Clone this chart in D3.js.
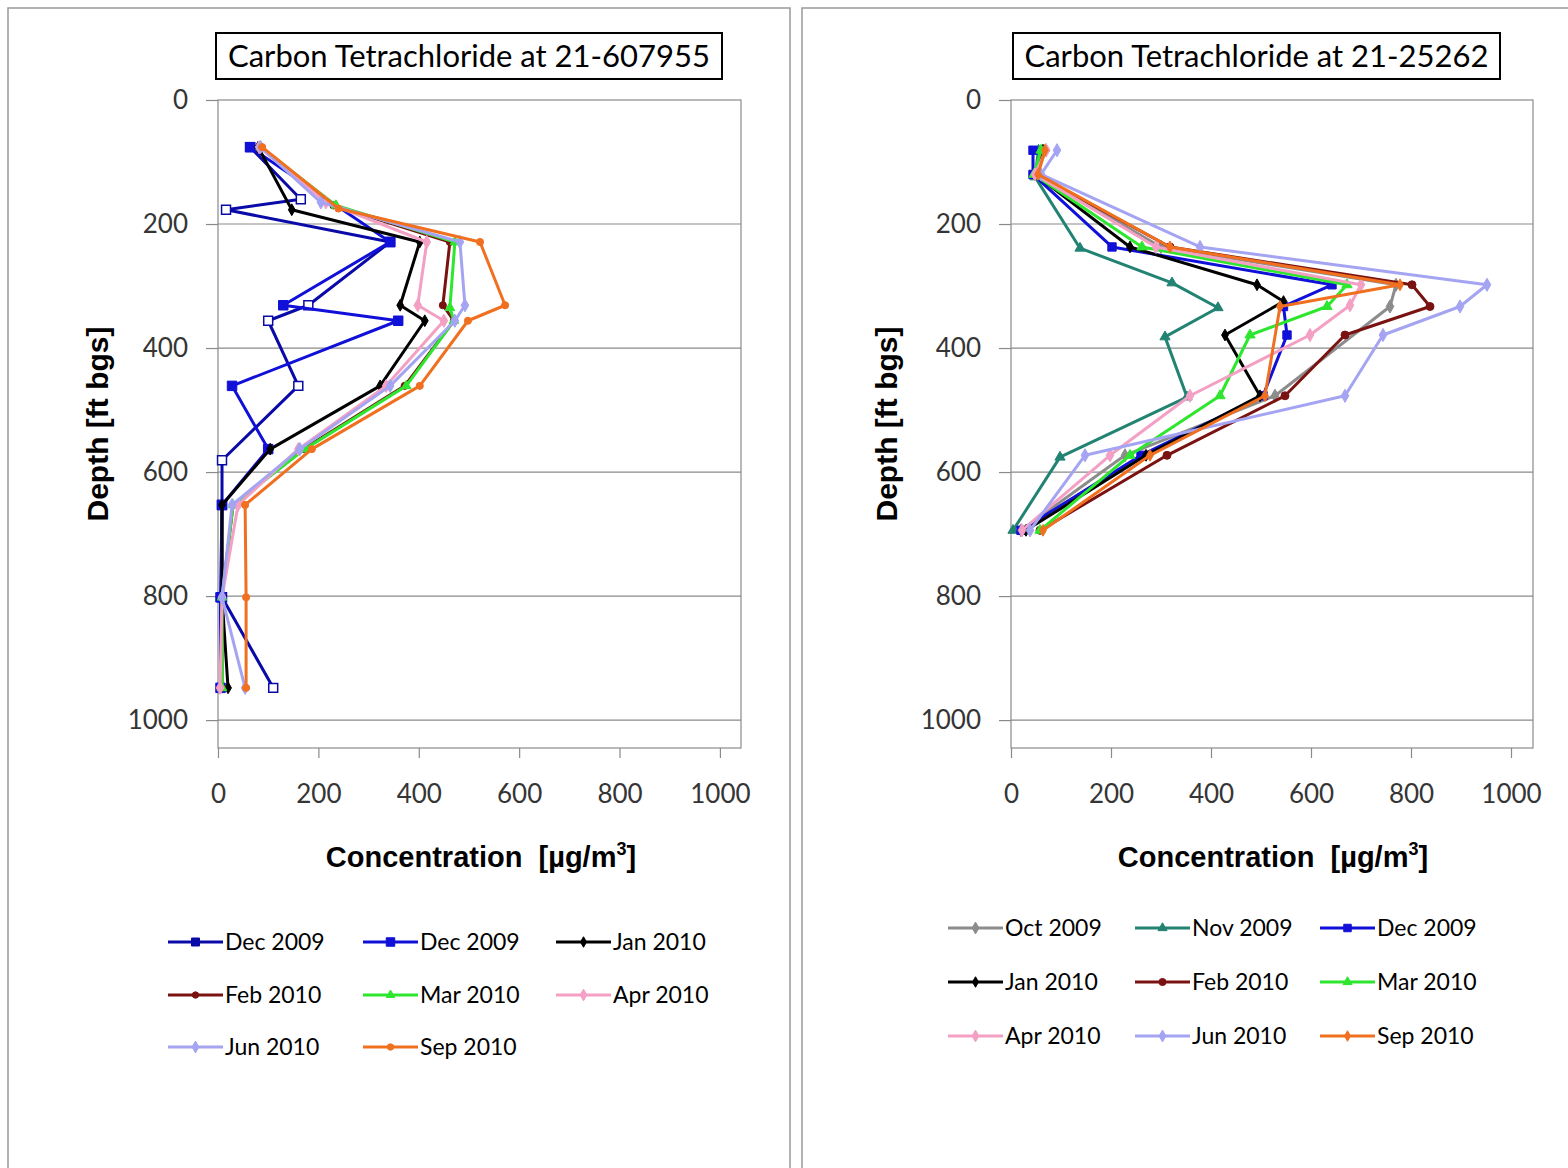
<!DOCTYPE html>
<html>
<head>
<meta charset="utf-8">
<script src="https://cdnjs.cloudflare.com/ajax/libs/d3/7.8.5/d3.min.js"></script>
<style>
  body { margin: 0; background: #fff; }
  svg { display: block; }
</style>
</head>
<body>
<div id="chart"></div>
<script>
// ---- data: depth [ft bgs] and concentration [ug/m3] per sampling event ----
const axisTicks = [0, 200, 400, 600, 800, 1000];

// well 21-607955
const L_names = ["Dec 2009", "Dec 2009", "Jan 2010", "Feb 2010", "Mar 2010", "Apr 2010", "Jun 2010", "Sep 2010"];
const L_dec09a_depth = [76, 160, 177, 229, 331, 356, 461, 581, 653, 802, 948];
const L_dec09a_conc  = [64, 165, 16, 343, 180, 100, 160, 8, 8, 8, 110];
const L_dec09b_depth = [76, 229, 331, 356, 461, 563, 653, 802, 948];
const L_dec09b_conc  = [64, 343, 130, 359, 28, 100, 8, 5, 5];
const L_jan10_depth = [76, 177, 229, 331, 356, 461, 563, 653, 802, 948];
const L_jan10_conc  = [80, 147, 402, 363, 412, 323, 104, 8, 8, 20];
const L_feb10_depth = [76, 170, 229, 331, 356, 461, 563, 653, 802, 948];
const L_feb10_conc  = [85, 230, 462, 448, 470, 372, 170, 30, 8, 8];
const L_mar10_depth = [76, 170, 229, 335, 356, 461, 563, 653, 802, 948];
const L_mar10_conc  = [85, 235, 472, 462, 470, 375, 173, 30, 8, 8];
const L_apr10_depth = [76, 165, 229, 331, 356, 461, 563, 653, 802, 948];
const L_apr10_conc  = [82, 215, 416, 398, 450, 335, 160, 40, 8, 4];
const L_jun10_depth = [76, 165, 229, 331, 356, 461, 563, 653, 802, 948];
const L_jun10_conc  = [85, 205, 482, 492, 472, 343, 163, 28, 8, 54];
const L_sep10_depth = [76, 175, 229, 331, 356, 461, 563, 653, 802, 948];
const L_sep10_conc  = [88, 240, 522, 572, 498, 402, 187, 54, 56, 56];

// well 21-25262
const R_names = ["Oct 2009", "Nov 2009", "Dec 2009", "Jan 2010", "Feb 2010", "Mar 2010", "Apr 2010", "Jun 2010", "Sep 2010"];
const R_oct09_depth = [81, 120, 237, 298, 333, 477, 573, 694];
const R_oct09_conc  = [70, 50, 300, 770, 758, 528, 228, 20];
const R_nov09_depth = [81, 124, 239, 295, 335, 382, 479, 576, 694];
const R_nov09_conc  = [55, 48, 138, 322, 414, 308, 352, 98, 4];
const R_dec09_depth = [81, 120, 237, 298, 333, 379, 477, 573, 694];
const R_dec09_conc  = [44, 44, 202, 642, 545, 552, 504, 260, 20];
const R_jan10_depth = [81, 120, 237, 298, 325, 379, 477, 573, 694];
const R_jan10_conc  = [64, 48, 238, 492, 545, 428, 498, 270, 30];
const R_feb10_depth = [81, 120, 237, 298, 333, 379, 477, 573, 694];
const R_feb10_conc  = [66, 50, 318, 802, 838, 668, 548, 312, 58];
const R_mar10_depth = [81, 120, 237, 298, 333, 379, 477, 573, 694];
const R_mar10_conc  = [60, 46, 262, 672, 632, 478, 418, 238, 58];
const R_apr10_depth = [81, 120, 237, 298, 331, 379, 477, 573, 694];
const R_apr10_conc  = [70, 48, 290, 700, 678, 598, 358, 198, 22];
const R_jun10_depth = [81, 120, 237, 298, 333, 379, 477, 573, 694];
const R_jun10_conc  = [92, 60, 378, 952, 898, 744, 668, 148, 38];
const R_sep10_depth = [81, 120, 237, 298, 333, 477, 573, 694];
const R_sep10_conc  = [68, 54, 318, 778, 538, 508, 278, 64];

// ---- styles ----
const C = {
  dec: "#1010d8", decDark: "#0a0aa8", jan: "#000000", feb: "#7a1212", mar: "#2ee62e",
  apr: "#f4a0c4", jun: "#a4a4f2", sep: "#f07020", oct: "#8c8c8c", nov: "#228373"
};

function zip(depth, conc) {
  return depth.map((d, i) => ({ depth: d, conc: conc[i] }));
}

const leftSeries = [
  { name: L_names[0], color: C.decDark, sym: d3.symbolSquare, size: 80, open: true, data: zip(L_dec09a_depth, L_dec09a_conc) },
  { name: L_names[1], color: C.dec, sym: d3.symbolSquare, size: 90, data: zip(L_dec09b_depth, L_dec09b_conc) },
  { name: L_names[2], color: C.jan, sym: d3.symbolDiamond, size: 40, data: zip(L_jan10_depth, L_jan10_conc) },
  { name: L_names[3], color: C.feb, sym: d3.symbolCircle, size: 40, data: zip(L_feb10_depth, L_feb10_conc) },
  { name: L_names[4], color: C.mar, sym: d3.symbolTriangle, size: 40, data: zip(L_mar10_depth, L_mar10_conc) },
  { name: L_names[5], color: C.apr, sym: d3.symbolDiamond, size: 50, data: zip(L_apr10_depth, L_apr10_conc) },
  { name: L_names[6], color: C.jun, sym: d3.symbolDiamond, size: 50, data: zip(L_jun10_depth, L_jun10_conc) },
  { name: L_names[7], color: C.sep, sym: d3.symbolCircle, size: 40, data: zip(L_sep10_depth, L_sep10_conc) }
];

const rightSeries = [
  { name: R_names[0], color: C.oct, sym: d3.symbolDiamond, size: 50, data: zip(R_oct09_depth, R_oct09_conc) },
  { name: R_names[1], color: C.nov, sym: d3.symbolTriangle, size: 45, data: zip(R_nov09_depth, R_nov09_conc) },
  { name: R_names[2], color: C.dec, sym: d3.symbolSquare, size: 70, data: zip(R_dec09_depth, R_dec09_conc) },
  { name: R_names[3], color: C.jan, sym: d3.symbolDiamond, size: 40, data: zip(R_jan10_depth, R_jan10_conc) },
  { name: R_names[4], color: C.feb, sym: d3.symbolCircle, size: 50, data: zip(R_feb10_depth, R_feb10_conc) },
  { name: R_names[5], color: C.mar, sym: d3.symbolTriangle, size: 45, data: zip(R_mar10_depth, R_mar10_conc) },
  { name: R_names[6], color: C.apr, sym: d3.symbolDiamond, size: 50, data: zip(R_apr10_depth, R_apr10_conc) },
  { name: R_names[7], color: C.jun, sym: d3.symbolDiamond, size: 50, data: zip(R_jun10_depth, R_jun10_conc) },
  { name: R_names[8], color: C.sep, sym: d3.symbolDiamond, size: 40, data: zip(R_sep10_depth, R_sep10_conc) }
];

const W = 1568, H = 1168;
const svg = d3.select("#chart").append("svg").attr("width", W).attr("height", H);

function drawPanel(p) {
  // outer chart border
  svg.append("rect")
    .attr("x", p.box[0]).attr("y", p.box[1]).attr("width", p.box[2]).attr("height", p.box[3])
    .attr("fill", "#fff").attr("stroke", "#9a9a9a").attr("stroke-width", 1.5);

  const x = d3.scaleLinear().domain([0, p.xMax]).range([p.left, p.right]);
  const y = d3.scaleLinear().domain([0, p.yMax]).range([p.top, p.bottom]);
  const g = svg.append("g");

  // gridlines
  g.selectAll(".grid").data(axisTicks.slice(1))
    .join("line")
    .attr("x1", p.left).attr("x2", p.right)
    .attr("y1", d => y(d)).attr("y2", d => y(d))
    .attr("stroke", "#8a8a8a").attr("stroke-width", 1.2);

  // plot area frame
  g.append("rect")
    .attr("x", p.left).attr("y", p.top).attr("width", p.right - p.left).attr("height", p.bottom - p.top)
    .attr("fill", "none").attr("stroke", "#8a8a8a").attr("stroke-width", 1.2);

  const fmt = d3.format("d");
  const yAxis = g.append("g").attr("transform", `translate(${p.left},0)`)
    .call(d3.axisLeft(y).tickValues(axisTicks).tickFormat(fmt).tickSize(12).tickPadding(18));
  const xAxis = g.append("g").attr("transform", `translate(0,${p.bottom})`)
    .call(d3.axisBottom(x).tickValues(axisTicks).tickFormat(fmt).tickSize(10).tickPadding(27));
  [xAxis, yAxis].forEach(a => {
    a.select(".domain").remove();
    a.selectAll(".tick line").attr("stroke", "#8a8a8a").attr("stroke-width", 1.2);
    a.selectAll(".tick text").attr("font-family", "Lato, 'Open Sans', sans-serif")
      .attr("font-size", 26).attr("fill", "#353535");
  });

  // series
  const line = d3.line().x(d => x(d.conc)).y(d => y(d.depth));
  p.series.forEach(s => {
    g.append("path").datum(s.data)
      .attr("d", line).attr("fill", "none")
      .attr("stroke", s.color).attr("stroke-width", 3).attr("stroke-linejoin", "round");
    g.selectAll(null).data(s.data).join("path")
      .attr("transform", d => `translate(${x(d.conc)},${y(d.depth)})`)
      .attr("d", d3.symbol().type(s.sym).size(s.size))
      .attr("fill", s.open ? "#fff" : s.color)
      .attr("stroke", s.color).attr("stroke-width", s.open ? 1.5 : 1);
  });

  // title box
  const tb = p.titleBox;
  svg.append("rect").attr("x", tb[0]).attr("y", tb[1]).attr("width", tb[2]).attr("height", tb[3])
    .attr("fill", "#fff").attr("stroke", "#000").attr("stroke-width", 2);
  svg.append("text").attr("x", tb[0] + tb[2] / 2).attr("y", tb[1] + tb[3] / 2 + 11)
    .attr("text-anchor", "middle").attr("font-family", "Lato, 'Open Sans', sans-serif")
    .attr("font-size", 31).attr("fill", "#000").text(p.title);

  // axis titles
  const xt = svg.append("text").attr("x", p.xTitle[0]).attr("y", p.xTitle[1])
    .attr("text-anchor", "middle").attr("font-family", "'Liberation Sans', Arial, sans-serif")
    .attr("font-weight", "bold").attr("font-size", 29).attr("fill", "#000");
  xt.append("tspan").text("Concentration\u00a0\u00a0[\u00b5g/m");
  xt.append("tspan").attr("font-size", 18).attr("dy", -12).text("3");
  xt.append("tspan").attr("dy", 12).text("]");

  svg.append("text")
    .attr("transform", `translate(${p.yTitle[0]},${p.yTitle[1]}) rotate(-90)`)
    .attr("text-anchor", "middle").attr("font-family", "'Liberation Sans', Arial, sans-serif")
    .attr("font-weight", "bold").attr("font-size", 30).attr("fill", "#000")
    .text("Depth [ft bgs]");

  // legend
  const lg = svg.append("g");
  p.series.forEach((s, i) => {
    const cx = p.legend.cols[i % 3], cy = p.legend.rows[Math.floor(i / 3)];
    const it = lg.append("g").attr("transform", `translate(${cx},${cy})`);
    it.append("line").attr("x1", 0).attr("x2", 55).attr("y1", 0).attr("y2", 0)
      .attr("stroke", s.color).attr("stroke-width", 3);
    it.append("path").attr("transform", "translate(27.5,0)")
      .attr("d", d3.symbol().type(s.sym).size(s.size * 0.8))
      .attr("fill", s.color).attr("stroke", s.color);
    it.append("text").attr("x", 57).attr("y", 8)
      .attr("font-family", "Lato, 'Open Sans', sans-serif").attr("font-size", 23)
      .attr("fill", "#000").text(s.name);
  });
}

drawPanel({
  box: [8, 8, 782, 1175],
  left: 218, right: 741, top: 100, bottom: 748, xMax: 1042, yMax: 1045,
  title: "Carbon Tetrachloride at 21-607955", titleBox: [216, 33, 506, 46],
  xTitle: [481, 867], yTitle: [108, 424],
  legend: { cols: [168, 363, 556], rows: [942, 995, 1047] },
  series: leftSeries
});

drawPanel({
  box: [802, 8, 780, 1175],
  left: 1011, right: 1533, top: 100, bottom: 748, xMax: 1044, yMax: 1045,
  title: "Carbon Tetrachloride at 21-25262", titleBox: [1013, 33, 487, 46],
  xTitle: [1273, 867], yTitle: [897, 424],
  legend: { cols: [948, 1135, 1320], rows: [928, 982, 1036] },
  series: rightSeries
});
</script>
</body>
</html>
